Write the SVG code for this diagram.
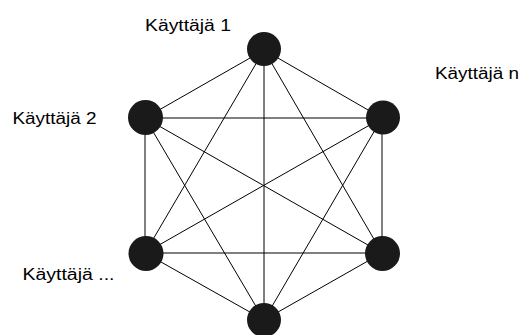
<svg xmlns="http://www.w3.org/2000/svg" width="524" height="335" viewBox="0 0 524 335">
<style>
.bg{fill:#ffffff}
.edge{stroke:#000000;stroke-width:1;fill:none}
.node{fill:#1a1a1a}
.lbl{font-family:"Liberation Sans",Arial,sans-serif;font-size:16px;fill:#000000}
</style>
<rect class="bg" x="0" y="0" width="524" height="335"/>
<g id="connectors">
<line class="edge" x1="264" y1="50" x2="145" y2="118"/>
<line class="edge" x1="264" y1="50" x2="382" y2="118"/>
<line class="edge" x1="264" y1="50" x2="145" y2="253"/>
<line class="edge" x1="264" y1="50" x2="382" y2="253"/>
<line class="edge" x1="264" y1="50" x2="264" y2="320"/>
<line class="edge" x1="145" y1="118" x2="382" y2="118"/>
<line class="edge" x1="145" y1="118" x2="145" y2="253"/>
<line class="edge" x1="145" y1="118" x2="382" y2="253"/>
<line class="edge" x1="145" y1="118" x2="264" y2="320"/>
<line class="edge" x1="382" y1="118" x2="145" y2="253"/>
<line class="edge" x1="382" y1="118" x2="382" y2="253"/>
<line class="edge" x1="382" y1="118" x2="264" y2="320"/>
<line class="edge" x1="145" y1="253" x2="382" y2="253"/>
<line class="edge" x1="145" y1="253" x2="264" y2="320"/>
<line class="edge" x1="382" y1="253" x2="264" y2="320"/>
</g>
<g id="node1">
<circle class="node" cx="264" cy="49" r="17"/>
<text class="lbl" x="145" y="30.5" textLength="86" lengthAdjust="spacingAndGlyphs">Käyttäjä 1</text>
</g>
<g id="node2">
<circle class="node" cx="145.5" cy="117.5" r="17.5"/>
<text class="lbl" x="12.5" y="124" textLength="84" lengthAdjust="spacingAndGlyphs">Käyttäjä 2</text>
</g>
<g id="noden">
<circle class="node" cx="383" cy="117.5" r="17"/>
<text class="lbl" x="435" y="78.5" textLength="84" lengthAdjust="spacingAndGlyphs">Käyttäjä n</text>
</g>
<g id="node3">
<circle class="node" cx="146" cy="253.5" r="17.5"/>
<text class="lbl" x="22.5" y="280" textLength="92" lengthAdjust="spacingAndGlyphs">Käyttäjä ...</text>
</g>
<g id="node4">
<circle class="node" cx="382.5" cy="253.5" r="17.5"/>
</g>
<g id="node5">
<circle class="node" cx="264" cy="320" r="17"/>
</g>
</svg>
